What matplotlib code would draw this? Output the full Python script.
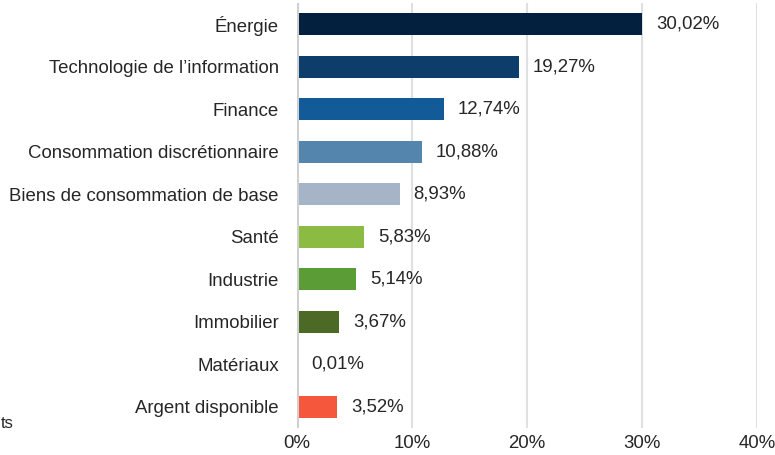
import matplotlib
matplotlib.use("Agg")
import matplotlib.pyplot as plt

# Sector weights (%)
sectors = ["Énergie", "Technologie de l’information", "Finance",
           "Consommation discrétionnaire", "Biens de consommation de base",
           "Santé", "Industrie", "Immobilier", "Matériaux", "Argent disponible"]
weights = [30.02, 19.27, 12.74, 10.88, 8.93, 5.83, 5.14, 3.67, 0.01, 3.52]
labels = ["30,02%", "19,27%", "12,74%", "10,88%", "8,93%",
          "5,83%", "5,14%", "3,67%", "0,01%", "3,52%"]
colors = ["#04203f", "#0c3d6b", "#135b98", "#5385ad", "#a5b4c7",
          "#8bbb43", "#5b9c37", "#4c6a26", "#ffffff", "#f5573d"]
xticks = [0, 10, 20, 30, 40]
xticklabels = ["0%", "10%", "20%", "30%", "40%"]

plt.rcParams["font.family"] = ["Liberation Sans", "DejaVu Sans"]
fs = 13.4

fig = plt.figure(figsize=(7.75, 4.55), dpi=100)
ax = fig.add_axes([297 / 775, 1 - 428 / 455, (757 - 297) / 775, 425 / 455])

ypos = list(range(len(sectors)))
ax.barh(ypos, weights, height=0.52, color=colors, zorder=3)

for y, w, lab in zip(ypos, weights, labels):
    ax.annotate(lab, (w, y), xytext=(10, 0), textcoords="offset points",
                va="center", ha="left", fontsize=fs, color="#262626")

ax.set_ylim(len(sectors) - 0.5, -0.5)
ax.set_xlim(0, 40)
ax.set_yticks(ypos)
ax.set_yticklabels(sectors, fontsize=fs, color="#262626")
ax.set_xticks(xticks)
ax.set_xticklabels(xticklabels, fontsize=fs, color="#262626")
ax.tick_params(axis="both", length=0)
ax.tick_params(axis="y", pad=13)
ax.tick_params(axis="x", pad=5)

ax.xaxis.grid(True, color="#e0e0e0", linewidth=1.5, zorder=0)
ax.axvline(0, color="#d0d0d0", linewidth=2.2, zorder=4)
for s in ax.spines.values():
    s.set_visible(False)

# fragment of a cropped label at the left edge
fig.text(0.001, 1 - 424 / 455, "ts", fontsize=12, color="#262626", va="center", ha="left")

fig.savefig("out.png", dpi=100)
